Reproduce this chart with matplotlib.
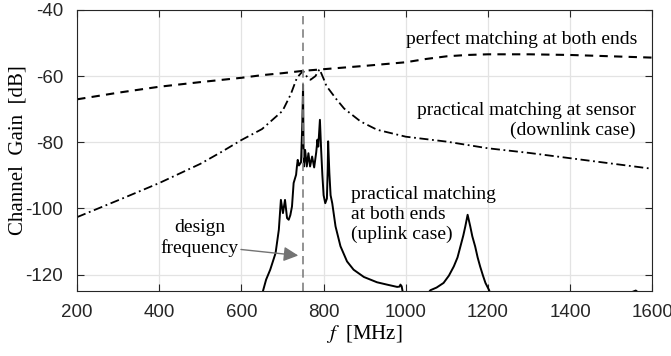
import numpy as np
import matplotlib
matplotlib.use("Agg")
import matplotlib.pyplot as plt

plt.rcParams["mathtext.fontset"] = "stix"

# ---- data ----
f_perfect = [200, 300, 400, 500, 600, 650, 700, 750, 800, 900, 1000, 1050, 1100, 1150, 1200, 1300, 1400, 1500, 1600]
g_perfect = [-67, -65, -63.2, -61.8, -60.5, -59.7, -59.1, -58.4, -57.9, -56.9, -55.8, -54.8, -54.0, -53.6, -53.4, -53.4, -53.6, -54.0, -54.4]

f_sensor = [200, 300, 400, 500, 550, 600, 650, 700, 720, 735, 750, 760, 768, 780, 790, 800, 807, 830, 850, 890, 930, 1000,
            1100, 1200, 1300, 1400, 1500, 1600]
g_sensor = [-102.6, -97.5, -92.3, -86.5, -83, -79.3, -76, -70.5, -65.5, -60.5, -58.4, -60.3, -61.1, -60.0, -57.9, -60.8,
            -63.0, -66.8, -69.8, -73.7, -76.2, -78.3, -79.8, -81.8, -83.2, -84.8, -86.4, -88.0]

f_uplink = [650, 660, 670, 683, 691, 696, 701, 706, 711, 715, 719, 723, 727, 733, 735, 737, 740, 745, 748, 750, 751,
            752, 755, 759, 763, 767, 772, 777, 782, 785, 787, 791, 794, 797, 800, 804, 808, 810, 811, 814, 817, 821, 829,
            841, 857, 873, 898, 930, 954, 979, 985, 987, 990, 993,
            np.nan,
            1055, 1060, 1075, 1092, 1105, 1117, 1126, 1133, 1140, 1145, 1150.6, 1157, 1162, 1169, 1175, 1181, 1188, 1194, 1203,
            np.nan,
            1550, 1560, 1565]
g_uplink = [-126, -121.5, -118.5, -113.5, -106.4, -97.4, -101.4, -97.4, -102.9, -103.4, -102, -99.4, -92.3, -89.8, -87.3,
            -85.3, -87, -86, -75, -62.6, -80, -87.3, -82.3, -87.3, -83.3, -87.3, -84.3, -87.6, -83, -79.2, -81.3, -73.2,
            -82.3, -90, -96, -98.4, -97, -88, -79.7, -89.3, -96, -98.4, -105.4,
            -111.4, -116, -118.5, -120.7, -122.3, -123, -123.7, -123.6, -123, -123.5, -125.5,
            np.nan,
            -125.5, -124.7, -123.9, -122.5, -120.3, -117.5, -114.8, -111.5, -108.2, -105.4, -101.9, -105.4, -108.4,
            -111.5, -114.8, -117.5, -120.3, -122.5, -124.7,
            np.nan,
            -125.3, -124.8, -125.3]

design_freq = 750
xticks = [200, 400, 600, 800, 1000, 1200, 1400, 1600]
yticks = [-120, -100, -80, -60, -40]
ytick_labels = ["-120", "-100", "-80", "-60", "-40"]

serif = ["Liberation Serif", "DejaVu Serif"]
sans = ["Liberation Sans", "DejaVu Sans"]

fig = plt.figure(figsize=(6.71, 3.56), dpi=100)
ax = fig.add_axes([0.115, 0.182, 0.857, 0.79])

ax.plot(f_perfect, g_perfect, color="black", lw=1.5, ls=(0, (4, 3)))
ax.plot(f_sensor, g_sensor, color="black", lw=1.3, ls=(0, (5, 2, 1, 2)))
ax.plot(f_uplink, g_uplink, color="black", lw=1.4, ls="-")
ax.axvline(design_freq, color="0.5", lw=1.2, ls=(0, (5, 3)))

ax.set_xlim(200, 1600)
ax.set_ylim(-125, -40)
ax.set_xticks(xticks)
ax.set_yticks(yticks)
ax.set_yticklabels(ytick_labels)
ax.grid(True, color="#e3e3e3", lw=0.9)
ax.set_axisbelow(True)
ax.tick_params(direction="in", top=True, right=True, length=5, width=0.8, color="#262626",
               labelsize=13.5, labelcolor="#262626")
ax.tick_params(axis="x", pad=9)
ax.tick_params(axis="y", pad=10)
for lab in ax.get_xticklabels() + ax.get_yticklabels():
    lab.set_family(sans)
for s in ax.spines.values():
    s.set_color("#262626")
    s.set_linewidth(0.8)

ax.set_xlabel(r"$f$  [MHz]", fontsize=15, family=serif, labelpad=2)
ax.set_ylabel("Channel  Gain  [dB]", fontsize=15, family=serif)
ax.yaxis.set_label_coords(-0.086, 0.5)

ax.text(1563, -48.7, "perfect matching at both ends", ha="right", va="center", fontsize=14, family=serif)
ax.text(1560, -73.5, "practical matching at sensor\n(downlink case)", ha="right", va="center",
        fontsize=14, family=serif, multialignment="right", linespacing=1.2)
ax.text(867, -101.8, "practical matching\nat both ends\n(uplink case)", ha="left", va="center",
        fontsize=14, family=serif, linespacing=1.2)
ax.text(498, -109, "design\nfrequency", ha="center", va="center", fontsize=14, family=serif, linespacing=1.2)
ax.annotate("", xy=(745, -114.3), xytext=(592, -112.3),
            arrowprops=dict(arrowstyle="-|>", color="0.45", lw=1.0, mutation_scale=22))

fig.savefig("out.png", dpi=100)
